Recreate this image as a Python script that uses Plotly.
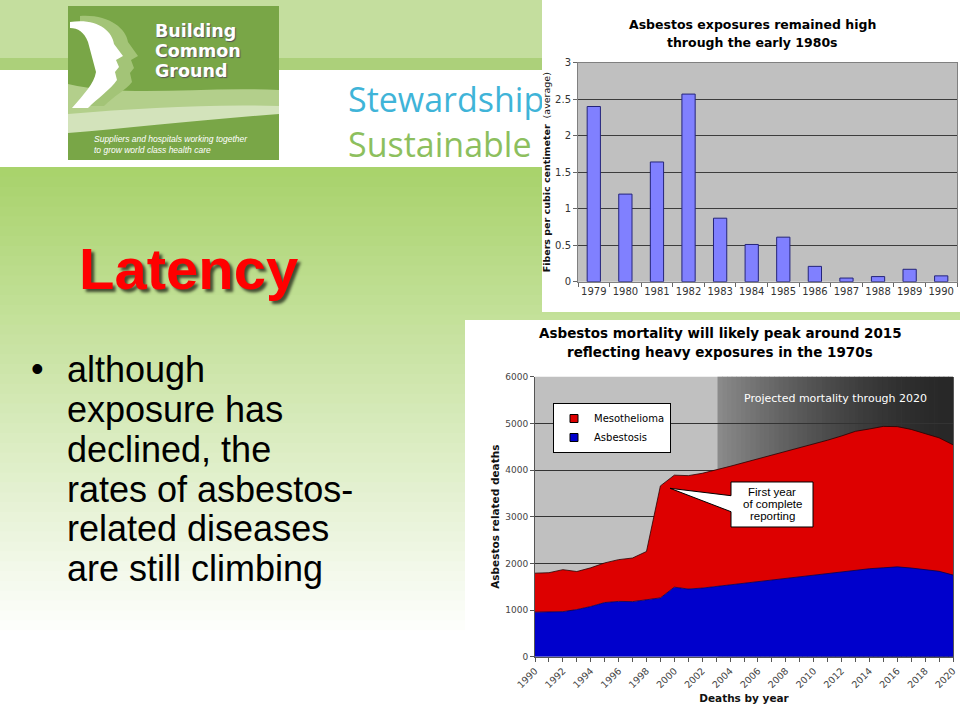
import plotly.graph_objects as go

W, H = 960, 720

# ---------------- data ----------------
exposure_years = ["1979", "1980", "1981", "1982", "1983", "1984",
                  "1985", "1986", "1987", "1988", "1989", "1990"]
exposure_fibers = [2.40, 1.20, 1.64, 2.57, 0.87, 0.51,
                   0.61, 0.21, 0.05, 0.07, 0.17, 0.08]

death_years = list(range(1990, 2021))
asbestosis_deaths = [955, 955, 965, 1010, 1075, 1160, 1185, 1180, 1220, 1260,
                     1490, 1450, 1470, 1505, 1540, 1575, 1610, 1645, 1680, 1715,
                     1750, 1780, 1820, 1860, 1885, 1905, 1925, 1900, 1865, 1830,
                     1750]
mesothelioma_deaths = [835, 845, 900, 815, 830, 850, 895, 935, 1035, 2400,
                       2400, 2430, 2460, 2495, 2540, 2585, 2630, 2675, 2710, 2755,
                       2810, 2860, 2910, 2970, 2995, 3030, 3005, 2970, 2915, 2860,
                       2790]
projection_start = 2003.1
projection_end = 2020

brand_lines = ["Stewardship", "Sustainable"]
bullet_lines = ["although", "exposure has", "declined, the",
                "rates of asbestos-", "related diseases", "are still climbing"]


def px(x):
    return x / W


def py(y):
    return 1 - y / H


def path_px(cmds):
    out = []
    for c in cmds:
        if isinstance(c, str):
            out.append(c)
        else:
            out.append(f"{px(c[0]):.5f},{py(c[1]):.5f}")
    return " ".join(out)


shapes = []


def rect(x0, y0, x1, y1, color, layer="below"):
    shapes.append(dict(type="rect", xref="paper", yref="paper",
                       x0=px(x0), x1=px(x1), y0=py(y1), y1=py(y0),
                       fillcolor=color, line=dict(width=0), layer=layer))


# ---- slide background ----
rect(0, 0, W, 58, "#c4de9e")
rect(0, 58, W, 70, "#acd07a")
top_rgb = (169, 211, 108)
n_strips = 48
g0, g1 = 167, 640
for i in range(n_strips):
    t = i / (n_strips - 1)
    r = int(top_rgb[0] + (255 - top_rgb[0]) * t)
    g = int(top_rgb[1] + (255 - top_rgb[1]) * t)
    b = int(top_rgb[2] + (255 - top_rgb[2]) * t)
    y0 = g0 + (g1 - g0) * i / n_strips
    y1 = g0 + (g1 - g0) * (i + 1) / n_strips + 1
    rect(0, y0, W, y1, f"rgb({r},{g},{b})")

# ---- logo ----
rect(68, 6, 279, 160, "#79a647")
shapes.append(dict(type="path", xref="paper", yref="paper", layer="below",
                   path=path_px(["M", (68, 84), "C", (130, 98), (200, 86), (279, 90),
                                 "L", (279, 106), "C", (200, 108), (130, 112), (68, 118), "Z"]),
                   fillcolor="#b3cf8b", line=dict(width=0)))
shapes.append(dict(type="path", xref="paper", yref="paper", layer="below",
                   path=path_px(["M", (68, 114), "C", (140, 108), (210, 104), (279, 106),
                                 "L", (279, 114), "C", (200, 120), (130, 128), (68, 133), "Z"]),
                   fillcolor="#d3e3bb", line=dict(width=0)))
shapes.append(dict(type="path", xref="paper", yref="paper", layer="below",
                   path=path_px(["M", (80, 16), "C", (108, 14), (126, 28), (128, 42),
                                 "L", (138, 56), "L", (131, 60), "L", (134, 68), "L", (130, 73),
                                 "L", (132, 82), "C", (126, 90), (114, 96), (104, 106),
                                 "L", (86, 106), "C", (98, 92), (108, 84), (110, 72),
                                 "L", (102, 40), "C", (98, 28), (90, 22), (80, 22), "Z"]),
                   fillcolor="#a3c477", line=dict(width=0)))
shapes.append(dict(type="path", xref="paper", yref="paper", layer="below",
                   path=path_px(["M", (70, 22), "C", (96, 18), (112, 30), (114, 44),
                                 "L", (123, 56), "L", (116, 60), "L", (119, 67), "L", (115, 72),
                                 "L", (117, 80), "C", (110, 90), (98, 98), (88, 108),
                                 "L", (72, 108), "C", (84, 94), (94, 84), (96, 72),
                                 "L", (88, 42), "C", (84, 32), (78, 28), (70, 28), "Z"]),
                   fillcolor="#ffffff", line=dict(width=0)))

# ---- chart image boxes ----
rect(542, 0, W, 312, "#ffffff")
rect(465, 320, W, H, "#ffffff")

# chart backgrounds
shapes.append(dict(type="rect", xref="x domain", yref="y domain", x0=0, x1=1, y0=0, y1=1,
                   fillcolor="#c0c0c0", line=dict(width=0), layer="below"))
shapes.append(dict(type="rect", xref="x2 domain", yref="y2 domain", x0=0, x1=1, y0=0, y1=1,
                   fillcolor="#c0c0c0", line=dict(width=0), layer="below"))
n_grad = 50
wgrad = (projection_end - projection_start) / n_grad
for i in range(n_grad):
    t = i / (n_grad - 1)
    c = int(40 + (138 - 40) * (1 - t) ** 1.6)
    shapes.append(dict(type="rect", xref="x2", yref="y2 domain",
                       x0=projection_start + i * wgrad,
                       x1=min(projection_start + (i + 1) * wgrad + 0.05, projection_end),
                       y0=0, y1=1, fillcolor=f"rgb({c},{c},{c})",
                       line=dict(width=0), layer="below"))

# callout
shapes.append(dict(type="path", xref="paper", yref="paper", layer="above",
                   path=path_px(["M", (731, 482), "L", (813, 482), "L", (813, 527), "L", (731, 527),
                                 "L", (731, 511.7), "L", (670, 488.3), "L", (731, 495.7), "Z"]),
                   fillcolor="#ffffff", line=dict(color="#000000", width=1)))

# ---------------- traces ----------------
fig = go.Figure()
fig.add_trace(go.Bar(x=exposure_years, y=exposure_fibers, xaxis="x", yaxis="y",
                     marker=dict(color="#8080ff", line=dict(color="#24247a", width=1)),
                     showlegend=False, hoverinfo="skip"))

fig.add_trace(go.Scatter(x=death_years, y=asbestosis_deaths, xaxis="x2", yaxis="y2",
                         stackgroup="deaths", mode="lines", name="Asbestosis",
                         line=dict(color="#00005a", width=0.8), fillcolor="#0000cc",
                         showlegend=False, hoverinfo="skip"))
fig.add_trace(go.Scatter(x=death_years, y=mesothelioma_deaths, xaxis="x2", yaxis="y2",
                         stackgroup="deaths", mode="lines", name="Mesothelioma",
                         line=dict(color="#2a0000", width=0.8), fillcolor="#dd0000",
                         showlegend=False, hoverinfo="skip"))
fig.add_trace(go.Scatter(x=[None], y=[None], xaxis="x2", yaxis="y2", mode="markers",
                         name="Mesothelioma",
                         marker=dict(symbol="square", size=8, color="#dd0000",
                                     line=dict(color="#000000", width=1))))
fig.add_trace(go.Scatter(x=[None], y=[None], xaxis="x2", yaxis="y2", mode="markers",
                         name="Asbestosis",
                         marker=dict(symbol="square", size=8, color="#0000cc",
                                     line=dict(color="#000000", width=1))))

fig.add_trace(go.Scatter(x=[348, 348], y=[103, 148], xaxis="x3", yaxis="y3",
                         mode="text", text=brand_lines, textposition="middle right",
                         textfont=dict(family="Open Sans", size=34,
                                       color=["#3fb4d8", "#8dbf5e"]),
                         cliponaxis=True, showlegend=False, hoverinfo="skip"))

# ---------------- annotations ----------------
ann = []


def text(x, y, s, size, color="#000000", family="DejaVu Sans", xanchor="center",
         shadow=None):
    f = dict(size=size, color=color, family=family)
    if shadow:
        f["shadow"] = shadow
    ann.append(dict(xref="paper", yref="paper", x=px(x), y=py(y), text=s,
                    showarrow=False, xanchor=xanchor, yanchor="middle", font=f))


text(752, 25, "<b>Asbestos exposures remained high</b>", 12.5)
text(752, 42, "<b>through the early 1980s</b>", 12.5)
text(720, 333, "<b>Asbestos mortality will likely peak around 2015</b>", 13.5)
text(720, 352, "<b>reflecting heavy exposures in the 1970s</b>", 13.5)
text(835.5, 398, "Projected mortality through 2020", 11, color="#ffffff")
for i, s in enumerate(["First year", "of complete", "reporting"]):
    text(772, 492.3 + 12 * i, s, 11.5, family="Liberation Sans")

text(77, 268.5, "<b>Latency</b>", 58, color="#ff0000", family="Liberation Sans",
     xanchor="left", shadow="3px 3px 3px rgba(0,0,0,0.65)")
text(29, 368, "•", 36, family="Liberation Sans", xanchor="left")
for i, s in enumerate(bullet_lines):
    text(65, 370 + 39.7 * i, s, 36, family="Liberation Sans", xanchor="left")

for s, yy in zip(["Building", "Common", "Ground"], [31, 51, 71]):
    text(153, yy, f"<b>{s}</b>", 17.5, color="#ffffff", xanchor="left",
         shadow="1px 1px 1px #555555")
text(92, 139, "<i>Suppliers and hospitals working together</i>", 8.5, color="#ffffff",
     family="Liberation Sans", xanchor="left")
text(92, 150, "<i>to grow world class health care</i>", 8.5, color="#ffffff",
     family="Liberation Sans", xanchor="left")

tickf = dict(family="DejaVu Sans", size=10, color="#333333")

fig.update_layout(
    width=W, height=H, autosize=False,
    margin=dict(l=0, r=0, t=0, b=0, pad=0),
    paper_bgcolor="#ffffff", plot_bgcolor="rgba(0,0,0,0)",
    bargap=0.58,
    shapes=shapes, annotations=ann,
    showlegend=True,
    legend=dict(x=px(553), y=py(403), xanchor="left", yanchor="top",
                bgcolor="#ffffff", bordercolor="#000000", borderwidth=1,
                font=dict(family="DejaVu Sans", size=10, color="#000000"),
                itemwidth=30, tracegroupgap=0, traceorder="normal"),
    xaxis=dict(domain=[px(578), px(957)], anchor="y", type="category",
               tickson="boundaries", ticks="outside", ticklen=4, tickcolor="#666666",
               tickangle=0,
               showline=True, linecolor="#808080", mirror=True, showgrid=False,
               tickfont=tickf, automargin=False, fixedrange=True),
    yaxis=dict(domain=[py(281.7), py(62.7)], anchor="x", range=[0, 3], dtick=0.5,
               ticks="outside", ticklen=4, tickcolor="#666666",
               showline=True, linecolor="#808080", mirror=True,
               gridcolor="#3c3c3c", gridwidth=1, zeroline=False,
               tickfont=tickf, automargin=False, fixedrange=True,
               title=dict(text="<b>Fibers per cubic centimeter</b>  (average)",
                          standoff=2,
                          font=dict(family="DejaVu Sans", size=9.5, color="#111111"))),
    xaxis2=dict(domain=[px(535), px(953)], anchor="y2", range=[1990, 2020],
                tick0=1990, dtick=2, tickangle=-45, ticks="outside", ticklen=4,
                tickcolor="#555555",
                minor=dict(dtick=1, ticks="outside", ticklen=4, tickcolor="#555555",
                           showgrid=False),
                showline=True, linecolor="#555555", showgrid=False, zeroline=False,
                tickfont=dict(family="DejaVu Sans", size=9.5, color="#444444"),
                automargin=False, fixedrange=True,
                title=dict(text="<b>Deaths by year</b>", standoff=5,
                           font=dict(family="DejaVu Sans", size=10.5, color="#111111"))),
    yaxis2=dict(domain=[py(656.7), py(376.7)], anchor="x2", range=[0, 6000], dtick=1000,
                ticks="outside", ticklen=4, tickcolor="#555555",
                showline=True, linecolor="#555555", mirror=True,
                gridcolor="#333333", gridwidth=1, zeroline=False,
                tickfont=dict(family="DejaVu Sans", size=9, color="#444444"),
                automargin=False, fixedrange=True,
                title=dict(text="<b>Asbestos related deaths</b>", standoff=3,
                           font=dict(family="DejaVu Sans", size=10.5, color="#111111"))),
    xaxis3=dict(domain=[0, px(542)], anchor="y3", range=[0, 542], visible=False,
                fixedrange=True),
    yaxis3=dict(domain=[py(170), 1], anchor="x3", range=[170, 0], visible=False,
                fixedrange=True),
)

fig.write_html("out.html", config=dict(displayModeBar=False, staticPlot=True),
               post_script="document.body.style.margin='0';"
                           "document.body.style.overflow='hidden';")
